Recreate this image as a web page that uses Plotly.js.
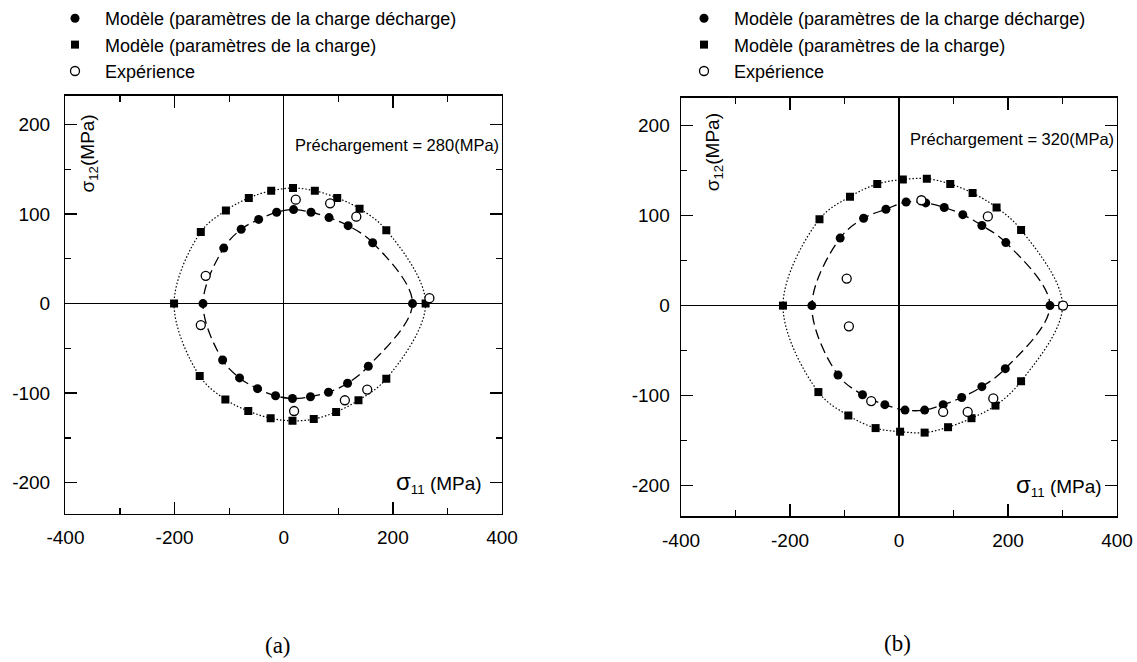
<!DOCTYPE html>
<html>
<head>
<meta charset="utf-8">
<script src="https://cdn.plot.ly/plotly-3.0.1.min.js"></script>
<style>html,body{margin:0;padding:0;background:#fff;}#chart{width:1137px;height:662px;}</style>
</head>
<body>
<div id="chart"></div>
<script>
// ---- Data (a): Préchargement = 280 MPa ----
const aDechX = [236, 163, 118, 83, 50, 18, -13, -46, -78, -110, -148, -112, -81, -48, -15, 16, 49, 82, 117, 155];
const aDechY = [0, 68, 87, 96, 102, 105, 102, 94, 83, 62, 0, -63, -83, -95, -103, -106, -104, -99, -89, -70];
const aChX = [260, 188, 139, 98, 57, 17, -23, -64, -106, -152, -201, -154, -107, -65, -24, 16, 55, 96, 137, 188];
const aChY = [0, 82, 106, 118, 126, 129, 126, 118, 104, 80, 0, -81, -107, -120, -128, -131, -129, -121, -108, -84];
const aExpX = [-143, 22, 85, 133, 267, -152, 19, 112, 153];
const aExpY = [31, 116, 112, 97, 6, -24, -120, -108, -96];

// ---- Data (b): Préchargement = 320 MPa ----
const bDechX = [277, 196, 152, 117, 83, 49, 13, -24, -65, -108, -160, -112, -67, -26, 11, 47, 81, 115, 152, 195];
const bDechY = [0, 70, 89, 101, 109, 114, 115, 107, 97, 75, 0, -77, -99, -110, -116, -116, -110, -102, -90, -70];
const bChX = [300, 224, 179, 135, 94, 51, 7, -40, -90, -146, -213, -148, -93, -43, 2, 47, 90, 133, 177, 224];
const bChY = [0, 84, 109, 125, 135, 141, 140, 135, 121, 96, 0, -96, -122, -136, -140, -141, -135, -125, -111, -84];
const bExpX = [-96, -92, 41, 163, 301, -51, 81, 126, 173];
const bExpY = [30, -23, 117, 99, 0, -106, -118, -118, -103];

// ---- Labels ----
const seriesNames = ['Modèle (paramètres de la charge décharge)', 'Modèle (paramètres de la charge)', 'Expérience'];
const xTickVals = [-400, -200, 0, 200, 400];
const yTickVals = [-200, -100, 0, 100, 200];
const preloadLabels = ['Préchargement = 280(MPa)', 'Préchargement = 320(MPa)'];
const panelLabels = ['(a)', '(b)'];

const FONT = 'Liberation Sans, Arial, sans-serif';
const close = arr => arr.concat([arr[0]]);

function panel(dx, dy, cx, cy, ex, ey, xa, ya, leg) {
  return [
    {x: close(cx), y: close(cy), xaxis: xa, yaxis: ya, mode: 'lines', showlegend: false, hoverinfo: 'skip',
     line: {color: 'black', width: 1.2, dash: '1.5px,2px', shape: 'spline', smoothing: 1}},
    {x: close(dx), y: close(dy), xaxis: xa, yaxis: ya, mode: 'lines', showlegend: false, hoverinfo: 'skip',
     line: {color: 'black', width: 1.3, dash: '10px,5px', shape: 'spline', smoothing: 1}},
    {x: dx, y: dy, xaxis: xa, yaxis: ya, mode: 'markers', name: seriesNames[0], legend: leg,
     marker: {symbol: 'circle', size: 9, color: 'black'}},
    {x: cx, y: cy, xaxis: xa, yaxis: ya, mode: 'markers', name: seriesNames[1], legend: leg,
     marker: {symbol: 'square', size: 8, color: 'black'}},
    {x: ex, y: ey, xaxis: xa, yaxis: ya, mode: 'markers', name: seriesNames[2], legend: leg,
     marker: {symbol: 'circle', size: 9, color: 'white', line: {color: 'black', width: 1.3}}}
  ];
}

const data = [].concat(
  panel(aDechX, aDechY, aChX, aChY, aExpX, aExpY, 'x', 'y', 'legend'),
  panel(bDechX, bDechY, bChX, bChY, bExpX, bExpY, 'x2', 'y2', 'legend2')
);

function xAxis(domain, anchor) {
  return {
    domain: domain, anchor: anchor, range: [-400, 400],
    tickmode: 'array', tickvals: xTickVals, ticktext: xTickVals.map(String),
    ticks: 'inside', ticklen: 12, tickwidth: 1.3, tickcolor: 'black',
    minor: {dtick: 100, tick0: 0, ticks: 'inside', ticklen: 6, tickwidth: 1.3, tickcolor: 'black'},
    showline: true, linecolor: 'black', linewidth: 1.5, mirror: 'ticks',
    zeroline: true, zerolinecolor: 'black', zerolinewidth: 1.5, showgrid: false,
    tickfont: {family: FONT, size: 19, color: 'black'}, ticklabelstandoff: 6
  };
}
function yAxis(domain, anchor, range, standoff) {
  return {
    domain: domain, anchor: anchor, range: range,
    tickmode: 'array', tickvals: yTickVals, ticktext: yTickVals.map(String),
    ticks: 'inside', ticklen: 12, tickwidth: 1.3, tickcolor: 'black',
    minor: {dtick: 50, tick0: 0, ticks: 'inside', ticklen: 6, tickwidth: 1.3, tickcolor: 'black'},
    showline: true, linecolor: 'black', linewidth: 1.5, mirror: 'ticks',
    zeroline: true, zerolinecolor: 'black', zerolinewidth: 1.5, showgrid: false,
    tickfont: {family: FONT, size: 19, color: 'black'}, ticklabelstandoff: standoff
  };
}

const legendBase = {
  font: {family: FONT, size: 18, color: 'black'}, bgcolor: 'rgba(0,0,0,0)', borderwidth: 0,
  xanchor: 'left', yanchor: 'top', y: 1 + 3 / 662, itemwidth: 50, tracegroupgap: 0
};

const annFont = {family: FONT, size: 16.5, color: 'black'};
const layout = {
  width: 1137, height: 662,
  margin: {l: 0, r: 0, t: 0, b: 0},
  paper_bgcolor: 'white', plot_bgcolor: 'white',
  showlegend: true,
  xaxis: xAxis([0.0576, 0.4415], 'y'),
  yaxis: yAxis([0.2246, 0.8591], 'x', [-235, 232], 10),
  xaxis2: xAxis([0.599, 0.9824], 'y2'),
  yaxis2: yAxis([0.221, 0.8565], 'x2', [-234, 231], 6),
  legend: Object.assign({}, legendBase, {x: 45 / 1137}),
  legend2: Object.assign({}, legendBase, {x: 674 / 1137}),
  annotations: [
    {xref: 'x', yref: 'y', x: 399, y: 177, xanchor: 'right', yanchor: 'middle', showarrow: false,
     text: preloadLabels[0], font: annFont},
    {xref: 'x2', yref: 'y2', x: 399, y: 185, xanchor: 'right', yanchor: 'middle', showarrow: false,
     text: preloadLabels[1], font: annFont},
    {xref: 'x', yref: 'y', x: -356, y: 167, xanchor: 'center', yanchor: 'middle', showarrow: false, textangle: -90,
     text: 'σ<sub>12</sub>(MPa)', font: {family: FONT, size: 19, color: 'black'}},
    {xref: 'x2', yref: 'y2', x: -340, y: 170, xanchor: 'center', yanchor: 'middle', showarrow: false, textangle: -90,
     text: 'σ<sub>12</sub>(MPa)', font: {family: FONT, size: 19, color: 'black'}},
    {xref: 'x', yref: 'y', x: 367, y: -200, xanchor: 'right', yanchor: 'middle', showarrow: false,
     text: '<span style="font-size:24px">σ</span><sub>11</sub> (MPa)', font: {family: FONT, size: 19, color: 'black'}},
    {xref: 'x2', yref: 'y2', x: 376, y: -200, xanchor: 'right', yanchor: 'middle', showarrow: false,
     text: '<span style="font-size:24px">σ</span><sub>11</sub> (MPa)', font: {family: FONT, size: 19, color: 'black'}},
    {xref: 'paper', yref: 'paper', x: 278 / 1137, y: 1 - 645 / 662, xanchor: 'center', yanchor: 'middle', showarrow: false,
     text: panelLabels[0], font: {family: 'Liberation Serif, Times New Roman, serif', size: 23, color: 'black'}},
    {xref: 'paper', yref: 'paper', x: 897 / 1137, y: 1 - 643 / 662, xanchor: 'center', yanchor: 'middle', showarrow: false,
     text: panelLabels[1], font: {family: 'Liberation Serif, Times New Roman, serif', size: 23, color: 'black'}}
  ]
};

Plotly.newPlot('chart', data, layout, {displayModeBar: false, staticPlot: true});
</script>
</body>
</html>
